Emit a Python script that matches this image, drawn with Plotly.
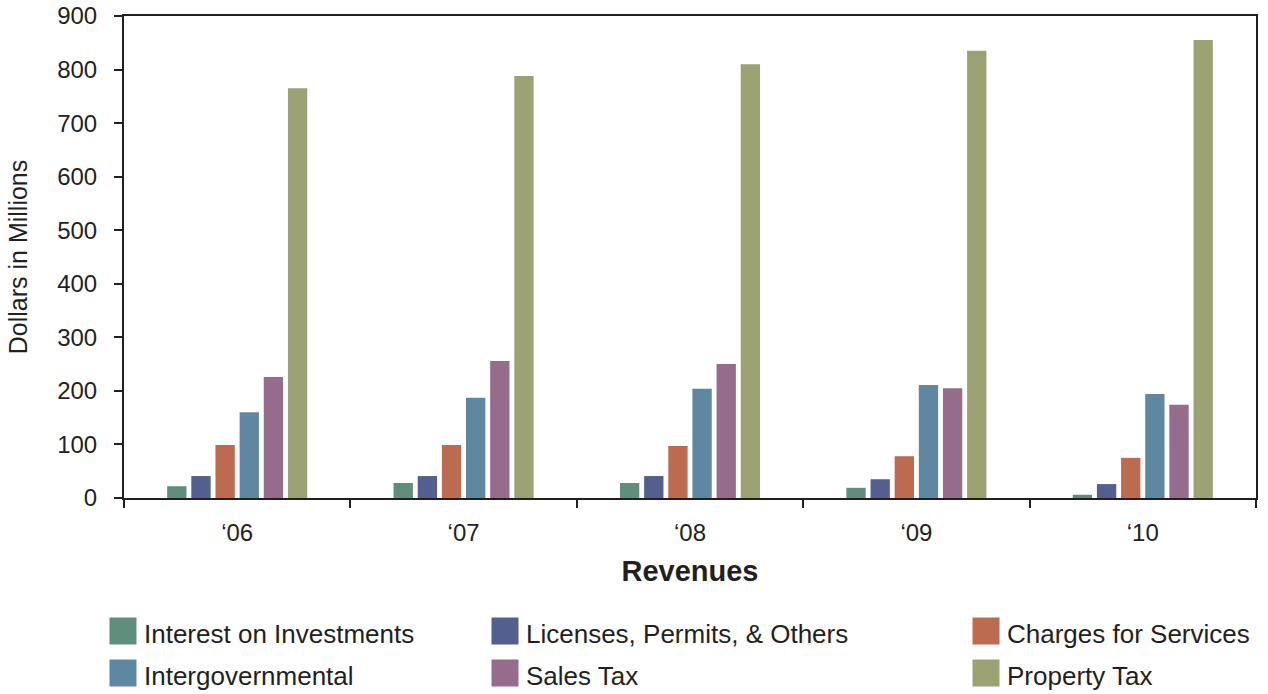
import plotly.graph_objects as go

years = ["\u201806", "\u201807", "\u201808", "\u201809", "\u201810"]
interest = [22, 28, 28, 19, 6]
licenses = [41, 41, 41, 35, 26]
charges = [99, 99, 97, 78, 75]
intergov = [160, 187, 204, 211, 194]
sales = [226, 256, 250, 205, 174]
property_tax = [765, 788, 810, 835, 855]

series = [
    ("Interest on Investments", interest, "#5f8e7d"),
    ("Licenses, Permits, & Others", licenses, "#525f8f"),
    ("Charges for Services", charges, "#bc6b50"),
    ("Intergovernmental", intergov, "#5e87a0"),
    ("Sales Tax", sales, "#956c8b"),
    ("Property Tax", property_tax, "#9ca272"),
]

FONT = "Liberation Sans, Arial, sans-serif"
TXT = "#231f20"

fig = go.Figure()
for i, (name, vals, col) in enumerate(series):
    fig.add_trace(go.Bar(
        x=years, y=vals, name=name,
        marker=dict(color=col, line=dict(width=0)),
        legend="legend" if i == 0 else f"legend{i+1}",
    ))

W, H, PL, PR, PT, PB = 1268, 694, 124, 12, 16, 196
pw = W - PL - PR
ph = H - PT - PB

def px_x(px):
    return (px - PL) / pw

def px_y(py):
    return (H - PB - py) / ph

col_x = [104, 486, 967]
row_y = [633, 675]
legends = {}
shapes = []
for i in range(6):
    r, c = divmod(i, 3)
    key = "legend" if i == 0 else f"legend{i+1}"
    legends[key] = dict(
        x=px_x(col_x[c]), y=px_y(row_y[r]), xanchor="left", yanchor="middle",
        font=dict(family=FONT, size=26, color=TXT), bgcolor="rgba(0,0,0,0)",
    )
    # enlarged legend swatch (decoration behind the native small swatch)
    cx, cy = col_x[c] + 19, row_y[r] - 2
    shapes.append(dict(
        type="rect", xref="paper", yref="paper", layer="above",
        x0=px_x(cx - 13.5), x1=px_x(cx + 13.5),
        y0=px_y(cy + 13.5), y1=px_y(cy - 13.5),
        fillcolor=series[i][2], line=dict(width=0),
    ))

fig.update_layout(
    width=W, height=H,
    margin=dict(l=PL, r=PR, t=PT, b=PB, autoexpand=False),
    paper_bgcolor="white", plot_bgcolor="white",
    barmode="group", bargap=0.36, bargroupgap=0.2,
    font=dict(family=FONT, size=20, color=TXT),
    showlegend=True,
    shapes=shapes,
    **legends,
)
fig.update_xaxes(
    showline=True, linecolor=TXT, linewidth=2, mirror=True,
    ticks="outside", ticklen=8, tickwidth=2, tickcolor=TXT,
    tickson="boundaries", ticklabelstandoff=12,
    tickfont=dict(family=FONT, size=24, color=TXT),
    title=dict(text="<b>Revenues</b>", font=dict(family=FONT, size=29, color=TXT), standoff=16),
)
fig.update_yaxes(
    range=[0, 900], dtick=100, showgrid=False, zeroline=False,
    showline=True, linecolor=TXT, linewidth=2, mirror=True,
    ticks="outside", ticklen=8, tickwidth=2, tickcolor=TXT,
    ticklabelstandoff=12,
    tickfont=dict(family=FONT, size=24, color=TXT),
    title=dict(text="Dollars in Millions", font=dict(family=FONT, size=25, color=TXT), standoff=22),
)

fig.write_html("out.html")
